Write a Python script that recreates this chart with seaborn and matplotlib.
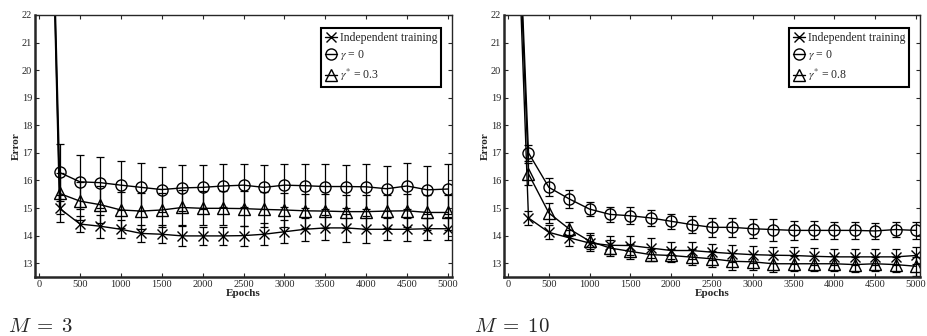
import numpy as np
import pandas as pd
import matplotlib
matplotlib.use("Agg")
import matplotlib.pyplot as plt
import seaborn as sns

# epochs (0 = start, huge error, off the top of the axes)
epochs = [0, 250, 500, 750, 1000, 1250, 1500, 1750, 2000, 2250, 2500,
          2750, 3000, 3250, 3500, 3750, 4000, 4250, 4500, 4750, 5000]

# M = 3
m3_indep = [45, 14.99, 14.42, 14.34, 14.23, 14.08, 14.05, 13.99, 13.99, 13.99, 14.00,
            14.05, 14.14, 14.23, 14.28, 14.28, 14.23, 14.23, 14.23, 14.25, 14.25]
m3_indep_err = [0, 0.50, 0.28, 0.42, 0.33, 0.32, 0.33, 0.35, 0.33, 0.33, 0.36,
                0.40, 0.42, 0.42, 0.45, 0.50, 0.48, 0.40, 0.42, 0.40, 0.42]
m3_g0 = [45, 16.29, 15.95, 15.92, 15.83, 15.75, 15.67, 15.73, 15.75, 15.80, 15.83,
         15.75, 15.83, 15.81, 15.78, 15.78, 15.77, 15.70, 15.80, 15.66, 15.69]
m3_g0_err = [0, 1.05, 0.97, 0.92, 0.89, 0.87, 0.81, 0.82, 0.80, 0.78, 0.78,
             0.80, 0.78, 0.80, 0.80, 0.78, 0.82, 0.82, 0.82, 0.88, 0.90]
m3_gs = [45, 15.53, 15.25, 15.12, 14.93, 14.89, 14.93, 15.02, 14.99, 14.99, 14.98,
         14.95, 14.93, 14.90, 14.89, 14.87, 14.87, 14.89, 14.90, 14.84, 14.84]
m3_gs_err = [0, 0.75, 0.70, 0.68, 0.65, 0.65, 0.62, 0.65, 0.62, 0.62, 0.62,
             0.62, 0.62, 0.62, 0.62, 0.60, 0.62, 0.60, 0.60, 0.62, 0.62]

# M = 10
m10_indep = [35, 14.64, 14.12, 13.92, 13.73, 13.65, 13.64, 13.55, 13.46, 13.46, 13.40,
             13.35, 13.31, 13.29, 13.28, 13.25, 13.23, 13.23, 13.23, 13.23, 13.28]
m10_indep_err = [0, 0.25, 0.25, 0.30, 0.30, 0.32, 0.35, 0.35, 0.30, 0.32, 0.30,
                 0.32, 0.30, 0.30, 0.30, 0.30, 0.28, 0.28, 0.28, 0.30, 0.30]
m10_g0 = [35, 17.00, 15.75, 15.33, 14.96, 14.77, 14.72, 14.64, 14.52, 14.40, 14.30,
          14.30, 14.25, 14.22, 14.19, 14.19, 14.19, 14.19, 14.17, 14.22, 14.19]
m10_g0_err = [0, 0.30, 0.33, 0.33, 0.25, 0.28, 0.30, 0.30, 0.27, 0.30, 0.35,
              0.35, 0.35, 0.40, 0.35, 0.33, 0.32, 0.30, 0.30, 0.28, 0.30]
m10_gs = [35, 16.24, 14.82, 14.24, 13.80, 13.55, 13.43, 13.31, 13.28, 13.22, 13.16,
          13.07, 13.05, 12.98, 12.98, 12.98, 12.98, 12.95, 12.98, 12.95, 12.89]
m10_gs_err = [0, 0.40, 0.38, 0.25, 0.30, 0.30, 0.28, 0.22, 0.25, 0.28, 0.30,
              0.30, 0.30, 0.30, 0.28, 0.28, 0.28, 0.28, 0.25, 0.28, 0.35]

labels_m3 = ["Independent training", r"$\gamma$ = 0", r"$\gamma^{*}$ = 0.3"]
labels_m10 = ["Independent training", r"$\gamma$ = 0", r"$\gamma^{*}$ = 0.8"]
markers = ["x", "o", "^"]

sns.set_style("ticks")
plt.rcParams["font.family"] = ["Liberation Serif", "DejaVu Serif"]
plt.rcParams["mathtext.fontset"] = "stix"

fig = plt.figure(figsize=(9.27, 3.36), dpi=100)
ax1 = fig.add_axes([0.0378, 0.1756, 0.4498, 0.7798])
ax2 = fig.add_axes([0.5437, 0.1756, 0.4488, 0.7798])


def panel(ax, series, errs, labels):
    for vals, err, lab, mk in zip(series, errs, labels, markers):
        df = pd.DataFrame({"Epochs": epochs, "Error": vals})
        sns.lineplot(data=df, x="Epochs", y="Error", ax=ax, color="black",
                     linewidth=1.0, marker=mk, markersize=8 if mk != "x" else 6.5,
                     markerfacecolor="none", markeredgecolor="black",
                     markeredgewidth=1.0, label=lab)
        ax.errorbar(epochs, vals, yerr=err, fmt="none", ecolor="black",
                    elinewidth=0.9, capsize=3, capthick=0.9)
    ax.set_xlim(-50, 5050)
    ax.set_ylim(12.5, 22)
    ax.set_xticks(np.arange(0, 5001, 500))
    ax.set_yticks(np.arange(13, 23, 1))
    ax.tick_params(direction="in", top=True, right=True, labelsize=7.5,
                   length=3, width=0.8, pad=2)
    for s in ["left", "bottom"]:
        ax.spines[s].set_linewidth(1.8)
    for s in ["top", "right"]:
        ax.spines[s].set_linewidth(1.0)
    ax.set_xlabel("Epochs", fontsize=8, fontweight="bold", labelpad=0)
    ax.set_ylabel("Error", fontsize=8, fontweight="bold", labelpad=1)
    leg = ax.legend(loc="upper right", bbox_to_anchor=(0.974, 0.95),
                    borderaxespad=0, fontsize=8.5, handlelength=1.0,
                    handletextpad=0.2, labelspacing=0.35, fancybox=False,
                    framealpha=1, edgecolor="black", borderpad=0.35)
    leg.get_frame().set_linewidth(1.5)
    return ax


panel(ax1, [m3_indep, m3_g0, m3_gs], [m3_indep_err, m3_g0_err, m3_gs_err],
      labels_m3)
panel(ax2, [m10_indep, m10_g0, m10_gs], [m10_indep_err, m10_g0_err, m10_gs_err],
      labels_m10)

fig.text(0.009, 0.012, r"$M\;=\;3$", fontsize=15, math_fontfamily="cm")
fig.text(0.511, 0.012, r"$M\;=\;10$", fontsize=15, math_fontfamily="cm")

fig.savefig("out.png", dpi=100)
